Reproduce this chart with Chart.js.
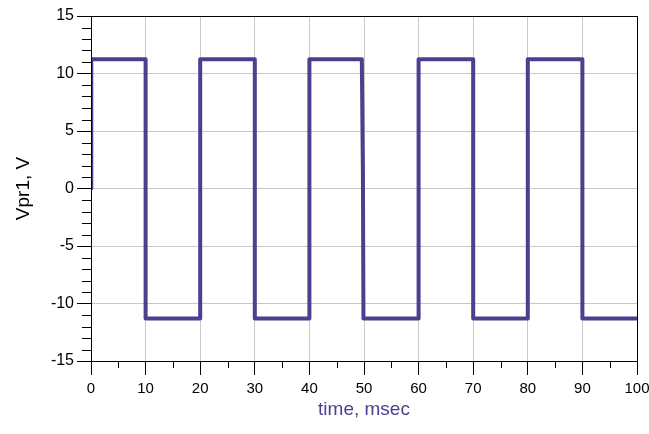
<!DOCTYPE html>
<html>
<head>
<meta charset="utf-8">
<script src="https://cdn.jsdelivr.net/npm/chart.js@4.4.0/dist/chart.umd.min.js"></script>
<style>
  html, body { margin: 0; padding: 0; background: #fff; }
  #wrap { width: 649px; height: 434px; }
</style>
</head>
<body>
<div id="wrap"><canvas id="chart" width="649" height="434"></canvas></div>
<script>
// waveform corners (time in msec, voltage in V)
const timeMs = [0, 0.05, 10, 10, 20, 20, 30, 30, 40, 40, 49.6, 49.8, 49.9, 60, 60, 70, 70, 80, 80, 90, 90, 100]
const vpr1 = [0, 11.25, 11.25, -11.3, -11.3, 11.25, 11.25, -11.3, -11.3, 11.25, 11.25, 1.3, -11.3, -11.3, 11.25, 11.25, -11.3, -11.3, 11.25, 11.25, -11.3, -11.3]

const xTicks = [0, 10, 20, 30, 40, 50, 60, 70, 80, 90, 100]
const xMinor = [5, 15, 25, 35, 45, 55, 65, 75, 85, 95]
const yTicks = [-15, -10, -5, 0, 5, 10, 15]
const yMinor = []
for (let v = -15; v <= 15; v++) if (v % 5 !== 0) yMinor.push(v)

const lineColor = '#4B3F8F'
const fontFamily = '"Liberation Sans", Arial, sans-serif'

// box + minor ticks
const framePlugin = {
    id: 'frame',
    afterDraw: (chart) => {
        const { ctx, chartArea, scales } = chart
        ctx.save()
        ctx.strokeStyle = '#000'
        ctx.lineWidth = 1
        ctx.beginPath()
        xMinor.forEach(v => {
            const x = Math.round(scales.x.getPixelForValue(v)) + 0.5
            ctx.moveTo(x, chartArea.bottom)
            ctx.lineTo(x, chartArea.bottom + 7)
        })
        yMinor.forEach(v => {
            const y = Math.round(scales.y.getPixelForValue(v)) + 0.5
            ctx.moveTo(chartArea.left - 9, y)
            ctx.lineTo(chartArea.left, y)
        })
        ctx.stroke()
        ctx.strokeRect(Math.round(chartArea.left) + 0.5, Math.round(chartArea.top) + 0.5,
            Math.round(chartArea.right - chartArea.left), Math.round(chartArea.bottom - chartArea.top))
        ctx.restore()
    }
}

new Chart(document.getElementById('chart'), {
    type: 'scatter',
    data: {
        datasets: [{
            data: timeMs.map((t, i) => ({ x: t, y: vpr1[i] })),
            showLine: true,
            borderColor: lineColor,
            borderWidth: 4,
            borderJoinStyle: 'round',
            pointRadius: 0,
            fill: false,
            tension: 0,
        }]
    },
    options: {
        responsive: false,
        animation: false,
        locale: 'en-US',
        layout: { padding: { top: 16, right: 12, left: 0, bottom: 0 } },
        plugins: { legend: { display: false }, tooltip: { enabled: false } },
        scales: {
            x: {
                type: 'linear',
                min: 0,
                max: 100,
                afterBuildTicks: (scale) => { scale.ticks = xTicks.map(v => ({ value: v })) },
                afterFit: (scale) => {
                    scale.height = 73
                    scale.paddingLeft = 0
                    scale.paddingRight = 0
                },
                ticks: { color: '#000', font: { family: fontFamily, size: 15 }, padding: 5, maxRotation: 0 },
                grid: { color: '#c8c8c8', tickColor: '#000', tickLength: 14, lineWidth: 1 },
                border: { color: '#000', width: 1 },
                title: {
                    display: true,
                    text: 'time, msec',
                    color: lineColor,
                    font: { family: fontFamily, size: 19 },
                    padding: { top: 0, bottom: 13 }
                }
            },
            y: {
                type: 'linear',
                min: -15,
                max: 15,
                afterBuildTicks: (scale) => { scale.ticks = yTicks.map(v => ({ value: v })) },
                afterFit: (scale) => {
                    scale.width = 91
                    scale.paddingTop = 0
                    scale.paddingBottom = 0
                },
                ticks: { color: '#000', font: { family: fontFamily, size: 16 }, padding: 3 },
                grid: { color: '#c8c8c8', tickColor: '#000', tickLength: 14, lineWidth: 1 },
                border: { color: '#000', width: 1 },
                title: {
                    display: true,
                    text: 'Vpr1, V',
                    color: '#000',
                    font: { family: fontFamily, size: 19 },
                    padding: { top: 12, bottom: 0 }
                }
            }
        }
    },
    plugins: [framePlugin]
})
</script>
</body>
</html>
